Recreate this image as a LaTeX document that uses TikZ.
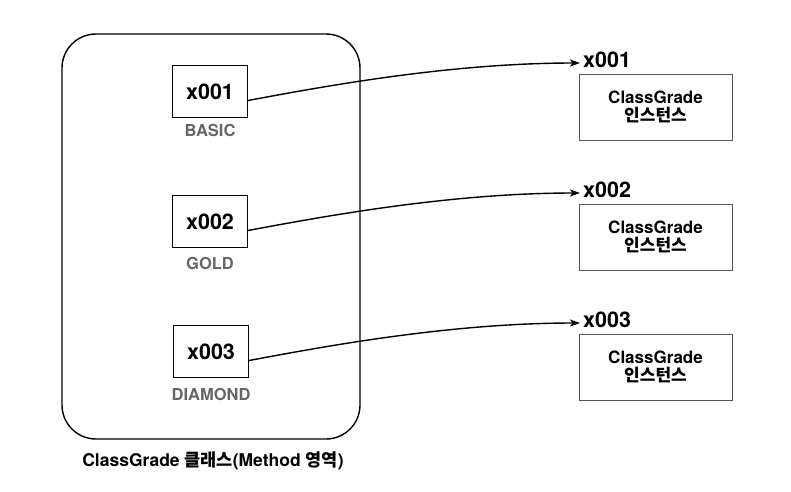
\documentclass[tikz,border=0pt]{standalone}
\usepackage{fontspec}
\setmainfont{TeX Gyre Heros}
\newfontfamily\kr{Noto Sans CJK KR}
\usetikzlibrary{arrows.meta}
\definecolor{lbl}{HTML}{666666}
\definecolor{inst}{HTML}{555555}
\tikzset{
  refbox/.style={draw=black, line width=1.1pt, minimum width=75pt, minimum height=52pt, inner sep=0pt, font=\bfseries\fontsize{21.5}{21.5}\selectfont},
  grade/.style={text=lbl, font=\bfseries\fontsize{16.5}{16.5}\selectfont, inner sep=0pt},
  addr/.style={font=\bfseries\fontsize{21.5}{21.5}\selectfont, inner sep=0pt, anchor=west},
  instbox/.style={draw=inst, line width=0.8pt, minimum width=153pt, minimum height=66pt, inner sep=0pt, align=center, font=\bfseries\fontsize{17}{17.5}\selectfont},
  ptr/.style={line width=1.4pt, -{Stealth[length=10pt,width=7pt,inset=2.5pt]}},
}
\begin{document}
\begin{tikzpicture}[x=1pt,y=-1pt]
\useasboundingbox (0,0) rectangle (791,491);
\draw[line width=1.4pt, rounded corners=34pt] (62,34) rectangle (360,439);
\node[font=\bfseries\fontsize{17.5}{17.5}\selectfont] (cap) at (213,461) {ClassGrade {\kr 클래스}(Method {\kr 영역})};

\node[refbox] (r1) at (210,91.5) {x001};
\node[refbox] (r2) at (210,221.5) {x002};
\node[refbox] (r3) at (211,351.5) {x003};
\node[grade] (g1) at (210,130) {BASIC};
\node[grade] (g2) at (210,263) {GOLD};
\node[grade] (g3) at (211,394) {DIAMOND};

\node[addr] (a1) at (583,60) {x001};
\node[addr] (a2) at (583,190) {x002};
\node[addr] (a3) at (583,320) {x003};

\node[instbox] (i1) at (655.5,107) {ClassGrade\\{\kr 인스턴스}};
\node[instbox] (i2) at (655.5,237) {ClassGrade\\{\kr 인스턴스}};
\node[instbox] (i3) at (655.5,367) {ClassGrade\\{\kr 인스턴스}};

\coordinate (s1) at ([yshift=-9pt]r1.east);
\coordinate (s2) at ([yshift=-9pt]r2.east);
\coordinate (s3) at ([yshift=-9pt]r3.east);
\coordinate (e1) at ([xshift=-3pt,yshift=-3pt]a1.west);
\coordinate (e2) at ([xshift=-3pt,yshift=-3pt]a2.west);
\coordinate (e3) at ([xshift=-3pt,yshift=-3pt]a3.west);
\draw[ptr] (s1) .. controls +(80,-15) and +(-128,0) .. (e1);
\draw[ptr] (s2) .. controls +(80,-15) and +(-128,0) .. (e2);
\draw[ptr] (s3) .. controls +(80,-15) and +(-128,0) .. (e3);
\end{tikzpicture}
\end{document}
